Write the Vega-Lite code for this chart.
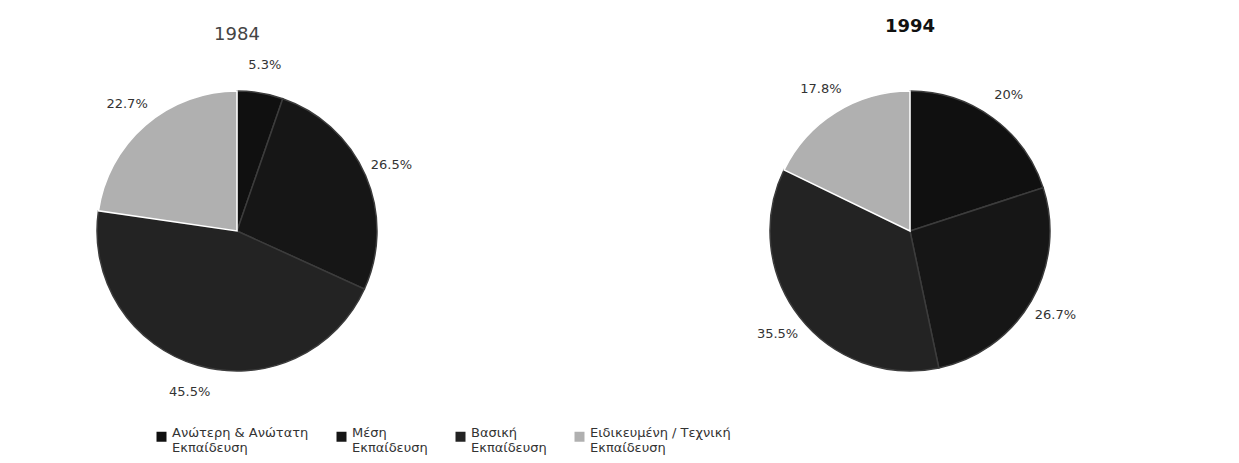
{
  "$schema": "https://vega.github.io/schema/vega-lite/v6.json",
  "padding": 0,
  "background": "white",
  "spacing": 110,
  "config": {"view": {"stroke": null}, "font": "DejaVu Sans"},
  "data": {
    "values": [
      {"year": "1984", "o": 1, "category": "Ανώτερη & Ανώτατη Εκπαίδευση", "value": 5.3, "pct": "5.3%"},
      {"year": "1984", "o": 2, "category": "Μέση Εκπαίδευση", "value": 26.5, "pct": "26.5%"},
      {"year": "1984", "o": 3, "category": "Βασική Εκπαίδευση", "value": 45.5, "pct": "45.5%"},
      {"year": "1984", "o": 4, "category": "Ειδικευμένη / Τεχνική Εκπαίδευση", "value": 22.7, "pct": "22.7%"},
      {"year": "1994", "o": 1, "category": "Ανώτερη & Ανώτατη Εκπαίδευση", "value": 20, "pct": "20%"},
      {"year": "1994", "o": 2, "category": "Μέση Εκπαίδευση", "value": 26.7, "pct": "26.7%"},
      {"year": "1994", "o": 3, "category": "Βασική Εκπαίδευση", "value": 35.5, "pct": "35.5%"},
      {"year": "1994", "o": 4, "category": "Ειδικευμένη / Τεχνική Εκπαίδευση", "value": 17.8, "pct": "17.8%"}
    ]
  },
  "hconcat": [
    {
      "width": 474,
      "height": 462,
      "transform": [{"filter": "datum.year == '1984'"}],
      "layer": [
        {
          "mark": {"type": "arc", "outerRadius": 140, "strokeWidth": 1.5},
          "encoding": {
            "theta": {"field": "value", "type": "quantitative", "stack": true},
            "order": {"field": "o", "type": "quantitative"},
            "stroke": {"condition": {"test": "datum.o == 4", "value": "white"}, "value": "#3c3c3c"},
            "color": {
              "field": "category", "type": "nominal",
              "scale": {
                "domain": ["Ανώτερη & Ανώτατη Εκπαίδευση", "Μέση Εκπαίδευση", "Βασική Εκπαίδευση", "Ειδικευμένη / Τεχνική Εκπαίδευση"],
                "range": ["#101010", "#161616", "#232323", "#b0b0b0"]
              },
              "legend": {
                "orient": "none", "legendX": 155, "legendY": 430,
                "direction": "horizontal", "columns": 4, "title": null,
                "symbolType": "square", "symbolSize": 100, "symbolStrokeWidth": 0,
                "labelFont": "DejaVu Sans", "labelFontSize": 13, "labelColor": "#333",
                "labelBaseline": "alphabetic", "labelLimit": 300, "columnPadding": 26,
                "labelExpr": "[substring(datum.label, 0, lastindexof(datum.label, ' ')), substring(datum.label, lastindexof(datum.label, ' ') + 1)]",
                "encode": {"labels": {"update": {"lineHeight": {"value": 18}, "dy": {"value": 5}}}}
              }
            }
          }
        },
        {
          "mark": {"type": "text", "radius": 168, "fontSize": 13, "color": "#333"},
          "encoding": {
            "theta": {"field": "value", "type": "quantitative", "stack": true},
            "order": {"field": "o", "type": "quantitative"},
            "detail": {"field": "category", "type": "nominal"},
            "text": {"field": "pct", "type": "nominal"}
          }
        },
        {
          "transform": [{"filter": "datum.o == 1"}],
          "mark": {"type": "text", "dy": -196, "fontSize": 18, "color": "#444", "fontWeight": "normal"},
          "encoding": {"text": {"field": "year", "type": "nominal"}}
        }
      ]
    },
    {
      "width": 652,
      "height": 462,
      "transform": [{"filter": "datum.year == '1994'"}],
      "layer": [
        {
          "mark": {"type": "arc", "outerRadius": 140, "strokeWidth": 1.5},
          "encoding": {
            "theta": {"field": "value", "type": "quantitative", "stack": true},
            "order": {"field": "o", "type": "quantitative"},
            "stroke": {"condition": {"test": "datum.o == 4", "value": "white"}, "value": "#3c3c3c"},
            "color": {"field": "category", "type": "nominal"}
          }
        },
        {
          "mark": {"type": "text", "radius": 168, "fontSize": 13, "color": "#333"},
          "encoding": {
            "theta": {"field": "value", "type": "quantitative", "stack": true},
            "order": {"field": "o", "type": "quantitative"},
            "detail": {"field": "category", "type": "nominal"},
            "text": {"field": "pct", "type": "nominal"}
          }
        },
        {
          "transform": [{"filter": "datum.o == 1"}],
          "mark": {"type": "text", "dy": -204, "fontSize": 18, "color": "#111", "fontWeight": "bold"},
          "encoding": {"text": {"field": "year", "type": "nominal"}}
        }
      ]
    }
  ]
}
